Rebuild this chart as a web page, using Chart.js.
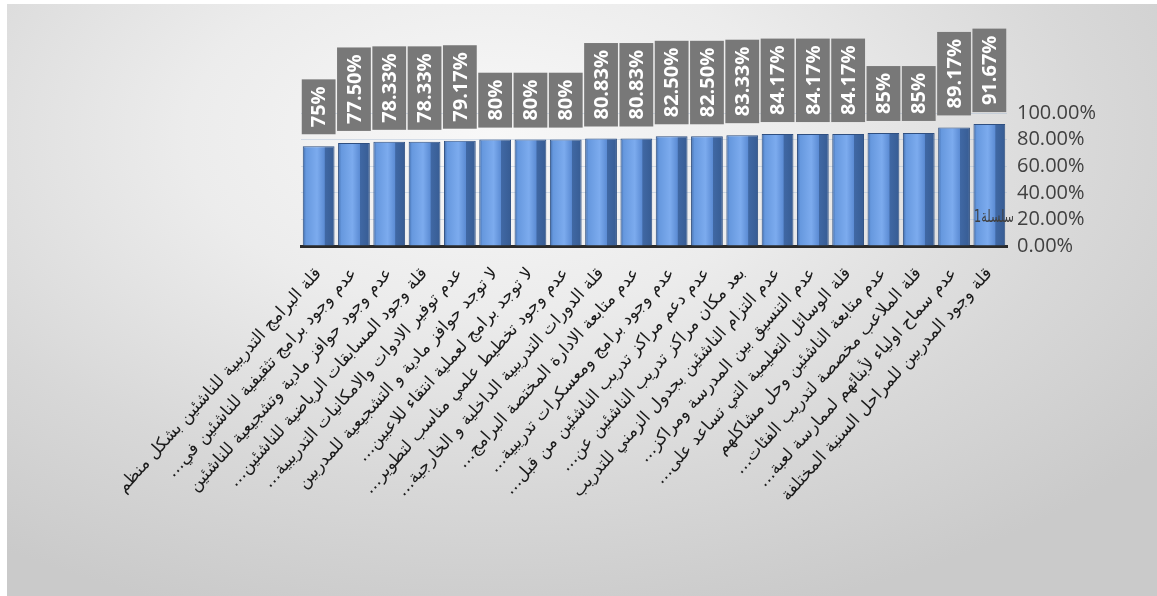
<!DOCTYPE html>
<html lang="ar">
<head>
<meta charset="utf-8">
<script src="https://cdn.jsdelivr.net/npm/chart.js@4.4.0/dist/chart.umd.min.js"></script>
<style>
  html, body { margin: 0; padding: 0; background: #fff; }
  #bg {
    position: absolute; left: 7px; top: 4px; width: 1150px; height: 592px;
    background: radial-gradient(ellipse 75% 85% at 42% 22%, #f8f8f8 0%, #ececec 35%, #d8d8d8 70%, #cacaca 100%);
  }
  #holder { position: absolute; left: 0; top: 0; width: 1157px; height: 596px; }
</style>
</head>
<body>
<div id="bg"></div>
<div id="holder"><canvas id="bar-chart" width="1157" height="596"></canvas></div>
<script>
// categories as shown (left to right)
const categories = [
  "قلة البرامج التدريبية للناشئين بشكل منظم",
  "عدم وجود برامج تثقيفية للناشئين في…",
  "عدم وجود حوافز مادية وتشجيعية للناشئين",
  "قلة وجود المسابقات الرياضية للناشئين…",
  "عدم توفير الادوات والامكانيات التدريبية…",
  "لا توجد حوافز مادية و التشجيعية للمدربين",
  "لا توجد برامج لعملية انتقاء للاعبين…",
  "عدم وجود تخطيط علمي مناسب لتطوير…",
  "قلة الدورات التدريبية الداخلية و الخارجية…",
  "عدم متابعة الادارة المختصة البرامج…",
  "عدم وجود برامج ومعسكرات تدريبية…",
  "عدم دعم مراكز تدريب الناشئين من قبل…",
  "بعد مكان مراكز تدريب الناشئين عن…",
  "عدم التزام الناشئين بجدول الزمني للتدريب",
  "عدم التنسيق بين المدرسة ومراكز…",
  "قلة الوسائل التعليمية التي تساعد على…",
  "عدم متابعة الناشئين وحل مشاكلهم",
  "قلة الملاعب مخصصة لتدريب الفئات…",
  "عدم سماح اولياء لأبنائهم لممارسة لعبة…",
  "قلة وجود المدربين للمراحل السنية المختلفة"
];
const values = [75, 77.5, 78.33, 78.33, 79.17, 80, 80, 80, 80.83, 80.83,
                82.5, 82.5, 83.33, 84.17, 84.17, 84.17, 85, 85, 89.17, 91.67];
const valueLabels = ["75%", "77.50%", "78.33%", "78.33%", "79.17%", "80%", "80%", "80%", "80.83%", "80.83%",
                     "82.50%", "82.50%", "83.33%", "84.17%", "84.17%", "84.17%", "85%", "85%", "89.17%", "91.67%"];
const yTicks = [0, 20, 40, 60, 80, 100];
const seriesName = "سلسلة1";

// bar fill: light front with darker right side, like the 3d column
const barFill = (c) => {
  const chart = c.chart;
  const xs = chart.scales.x;
  if (!xs || !chart.chartArea) return "#5a8bd0";
  const cx = xs.getPixelForValue(c.dataIndex);
  const w = xs.width / categories.length * 0.9;
  const g = chart.ctx.createLinearGradient(cx - w / 2, 0, cx + w / 2, 0);
  g.addColorStop(0, "#3f6aa8");
  g.addColorStop(0.1, "#6698de");
  g.addColorStop(0.45, "#7cabee");
  g.addColorStop(0.68, "#5c8cd4");
  g.addColorStop(0.7, "#4068a4");
  g.addColorStop(1, "#375c93");
  return g;
};

// grey boxes with vertical white value text above each bar
const boxLabels = {
  id: "boxLabels",
  afterDatasetsDraw(chart) {
    const ctx = chart.ctx;
    const meta = chart.getDatasetMeta(0);
    const step = chart.scales.x.width / categories.length;
    ctx.save();
    ctx.font = "bold 20px 'Open Sans'";
    meta.data.forEach((bar, i) => {
      const txt = valueLabels[i];
      const h = ctx.measureText(txt).width + 14;
      const w = step - 1.5;
      const bottom = bar.y - 12;
      ctx.fillStyle = "#787878";
      ctx.fillRect(bar.x - w / 2, bottom - h, w, h);
      ctx.save();
      ctx.translate(bar.x + 1, bottom - h / 2);
      ctx.rotate(-Math.PI / 2);
      ctx.fillStyle = "#ffffff";
      ctx.textAlign = "center";
      ctx.textBaseline = "middle";
      ctx.fillText(txt, 0, 0);
      ctx.restore();
    });
    // series name sits over the axis labels, as in the picture
    ctx.font = "17px 'DejaVu Sans'";
    ctx.fillStyle = "#404040";
    ctx.textAlign = "right";
    ctx.textBaseline = "alphabetic";
    ctx.translate(1014, 222);
    ctx.scale(0.66, 1);
    ctx.fillText(seriesName, 0, 0);
    ctx.restore();
  }
};

new Chart(document.getElementById("bar-chart"), {
  type: "bar",
  data: {
    labels: categories,
    datasets: [{
      label: seriesName,
      data: values,
      backgroundColor: barFill,
      borderColor: "#2f4f80",
      borderWidth: 1,
      barPercentage: 0.9,
      categoryPercentage: 1.0
    }]
  },
  options: {
    responsive: false,
    animation: false,
    layout: { padding: { left: 301, top: 113, right: 0, bottom: 4 } },
    plugins: { legend: { display: false }, tooltip: { enabled: false } },
    scales: {
      x: {
        grid: { display: false },
        border: { display: true, color: "#2a2a2a", width: 3 },
        ticks: {
          autoSkip: false, minRotation: 48, maxRotation: 48, padding: 10,
          color: "#1a1a1a", font: { family: "DejaVu Sans", size: 17 },
          // trailing RLM keeps the ellipsis at the far (left) end of the Arabic text
          callback: (v, i) => categories[i] + "\u200F"
        },
        afterFit: (s) => { s.height = 346; }
      },
      y: {
        position: "right",
        min: 0, max: 100,
        afterBuildTicks: (s) => { s.ticks = yTicks.map(v => ({ value: v })); },
        grid: { color: "rgba(150,175,205,0.35)", drawTicks: false },
        border: { display: false },
        ticks: {
          autoSkip: false, padding: 10, color: "#404040",
          font: { family: "Open Sans", size: 20, lineHeight: 1 },
          callback: (v) => v.toFixed(2) + "%"
        },
        afterFit: (s) => { s.width = 150; }
      }
    }
  },
  plugins: [boxLabels]
});
</script>
</body>
</html>
